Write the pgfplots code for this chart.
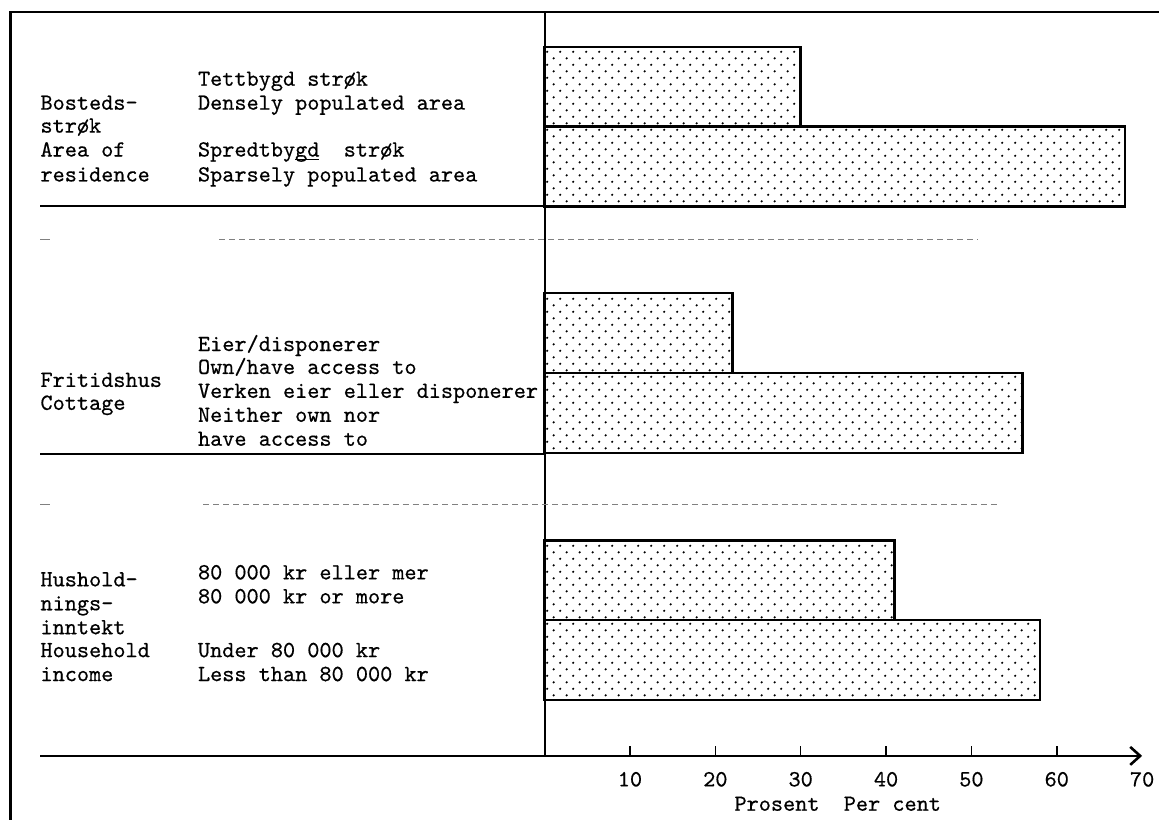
\documentclass[border=0pt]{standalone}
\usepackage{fontspec}
\setmonofont{lmmono10-regular}[Extension=.otf, FakeBold=0.5]
\usepackage{pgfplots}
\pgfplotsset{compat=1.18}
\usetikzlibrary{patterns.meta, arrows.meta}

% typewriter raster: staggered dots
\tikzdeclarepattern{
  name=typedots,
  type=uncolored,
  bounding box={(0pt,0pt) and (6.5pt,6.5pt)},
  tile size={(6.5pt,6.5pt)},
  code={
    \fill (1.6pt,1.6pt) circle (0.6pt);
    \fill (4.85pt,4.85pt) circle (0.6pt);
  }
}

\newcommand{\ul}[1]{\rlap{\rule[-1.6pt]{1.05em}{0.5pt}}#1}

\begin{document}
\ttfamily\fontsize{11.6}{13}\selectfont
\begin{tikzpicture}
\begin{axis}[
    scale only axis,
    width=299.6pt, height=373pt,
    xmin=0, xmax=70, ymin=64, ymax=810,
    axis x line=bottom, axis y line=left,
    x axis line style={line width=1pt, -{Straight Barb[length=5pt,width=9pt,line width=1.3pt]}},
    y axis line style={line width=1pt, -},
    ytick=\empty,
    xtick={10,20,...,60},
    extra x ticks={70},
    extra x tick style={major tick length=0pt},
    tick align=inside,
    major tick length=5pt,
    tick style={line width=0.8pt, black},
    xticklabel style={yshift=-4pt},
    /pgf/number format/assume math mode=true,
    clip=false,
]
\addplot[xbar, bar width=80, draw=black, line width=1.2pt,
         pattern=typedots, pattern color=black]
  coordinates {(30,735) (68,655) (22,488) (56,408) (41,240) (58,160)};

% frame and rules
\draw[line width=1.3pt] (axis cs:-62.6,0) -- (axis cs:-62.6,810) -- (axis cs:72,810);
\draw[line width=1pt] (axis cs:-59.1,615) -- (axis cs:0,615);
\draw[line width=1pt] (axis cs:-59.1,367) -- (axis cs:0,367);
\draw[line width=1pt] (axis cs:-59.1,64) -- (axis cs:0,64);
\draw[gray, densely dashed, line width=0.4pt] (axis cs:-38.1,582) -- (axis cs:50.7,582);
\draw[gray, line width=0.6pt] (axis cs:-59.1,582) -- (axis cs:-57.9,582);
\draw[gray, densely dashed, line width=0.4pt] (axis cs:-40,316) -- (axis cs:53,316);
\draw[gray, line width=0.6pt] (axis cs:-59.1,316) -- (axis cs:-57.9,316);

\begin{scope}[every node/.style={anchor=base west, inner sep=0pt}]
% area of residence
\node at (axis cs:-59.1,712) {Bosteds-};
\node at (axis cs:-59.1,689) {strøk};
\node at (axis cs:-59.1,665) {Area of};
\node at (axis cs:-59.1,640) {residence};
\node at (axis cs:-40.65,736) {Tettbygd strøk};
\node at (axis cs:-40.65,712) {Densely populated area};
\node at (axis cs:-40.65,665) {Spredtby\ul{gd}\ \ strøk};
\node at (axis cs:-40.65,640) {Sparsely populated area};
% cottage
\node at (axis cs:-59.1,434) {Fritidshus};
\node at (axis cs:-59.1,411) {Cottage};
\node at (axis cs:-40.65,470) {Eier/disponerer};
\node at (axis cs:-40.65,447) {Own/have access to};
\node at (axis cs:-40.65,423) {Verken eier eller disponerer};
\node at (axis cs:-40.65,399) {Neither own nor};
\node at (axis cs:-40.65,375) {have access to};
% household income
\node at (axis cs:-59.1,234) {Hushold-};
\node at (axis cs:-59.1,210) {nings-};
\node at (axis cs:-59.1,186) {inntekt};
\node at (axis cs:-59.1,163) {Household};
\node at (axis cs:-59.1,139) {income};
\node at (axis cs:-40.65,241) {80 000 kr eller mer};
\node at (axis cs:-40.65,217) {80 000 kr or more};
\node at (axis cs:-40.65,163) {Under 80 000 kr};
\node at (axis cs:-40.65,139) {Less than 80 000 kr};
% axis title
\node at (axis cs:22.2,9) {Prosent\ \ Per cent};
\end{scope}

\path (axis cs:-63.8,0) rectangle (axis cs:72,822);
\end{axis}
\end{tikzpicture}
\end{document}
